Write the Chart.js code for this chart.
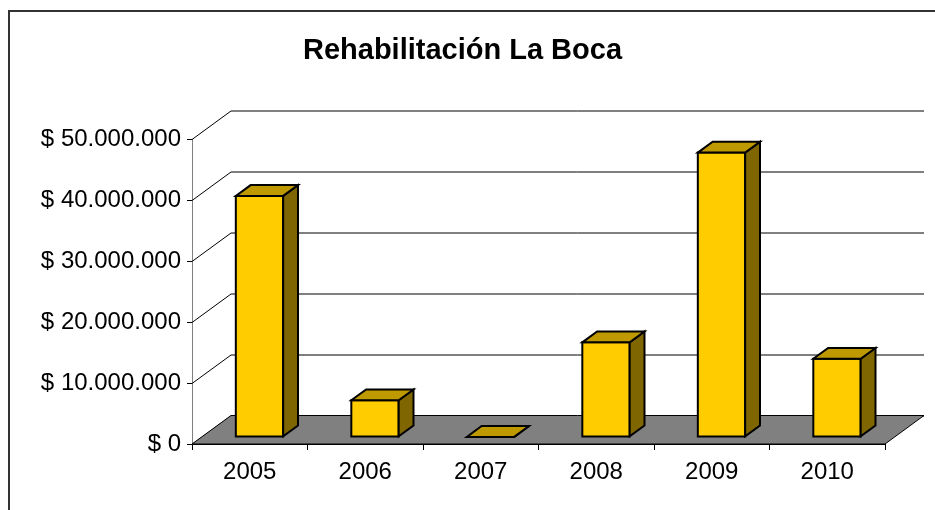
<!DOCTYPE html>
<html>
<head>
<meta charset="utf-8">
<title>Rehabilitación La Boca</title>
<script src="https://cdn.jsdelivr.net/npm/chart.js@4.4.1/dist/chart.umd.min.js"></script>
<style>
    html, body { margin: 0; padding: 0; background: #fff; }
    #wrap { position: relative; width: 935px; height: 510px; }
    #frame { position: absolute; left: 8px; top: 10px; right: 0; bottom: 0; border-left: 2px solid #333; border-top: 2px solid #333; }
    #chart { position: absolute; left: 0; top: 0; }
</style>
</head>
<body>
<div id="wrap">
    <div id="frame"></div>
    <canvas id="chart" width="935" height="510"></canvas>
</div>
<script>
const chartTitle = 'Rehabilitación La Boca';
const years = ['2005', '2006', '2007', '2008', '2009', '2010'];
const amounts = [39500000, 6000000, 0, 15500000, 46600000, 12800000];
const yTicks = [0, 10000000, 20000000, 30000000, 40000000, 50000000];

// fake 3d depth of the floor, and where the bars sit inside it
const DEPTH_X = 39, DEPTH_Y = -28.5;
const BAR_FRONT = 0.25, BAR_BACK = 0.63;
const FONT = "'Liberation Sans', Arial, sans-serif";

function pesos(v) {
    return '$ ' + String(Math.round(v)).replace(/\B(?=(\d{3})+(?!\d))/g, '.');
}

function poly(ctx, pts, fill, stroke, lw) {
    ctx.beginPath();
    ctx.moveTo(pts[0][0], pts[0][1]);
    for (let i = 1; i < pts.length; i++) ctx.lineTo(pts[i][0], pts[i][1]);
    ctx.closePath();
    if (fill) { ctx.fillStyle = fill; ctx.fill(); }
    if (stroke) { ctx.strokeStyle = stroke; ctx.lineWidth = lw; ctx.stroke(); }
}

const box3d = {
    id: 'box3d',
    beforeDatasetsDraw(chart) {
        const ctx = chart.ctx;
        const a = chart.chartArea;
        const ys = chart.scales.y;
        ctx.save();
        // back wall grid + side wall diagonals
        ctx.strokeStyle = '#000';
        ctx.lineWidth = 1;
        yTicks.forEach(v => {
            const py = Math.round(ys.getPixelForValue(v)) + 0.5;
            ctx.beginPath();
            ctx.moveTo(a.left, py);
            ctx.lineTo(a.left + DEPTH_X, py + DEPTH_Y);
            ctx.lineTo(a.right + DEPTH_X, py + DEPTH_Y);
            ctx.stroke();
        });
        // floor
        const y0 = ys.getPixelForValue(0);
        poly(ctx, [
            [a.left, y0], [a.right, y0],
            [a.right + DEPTH_X, y0 + DEPTH_Y], [a.left + DEPTH_X, y0 + DEPTH_Y]
        ], '#808080', '#000', 1);
        ctx.restore();
    },
    afterDatasetsDraw(chart) {
        const ctx = chart.ctx;
        const fx = DEPTH_X * BAR_FRONT, fy = DEPTH_Y * BAR_FRONT;
        const dx = DEPTH_X * (BAR_BACK - BAR_FRONT), dy = DEPTH_Y * (BAR_BACK - BAR_FRONT);
        ctx.save();
        ctx.lineJoin = 'miter';
        chart.getDatasetMeta(0).data.forEach(bar => {
            const p = bar.getProps(['x', 'y', 'base', 'width'], true);
            const l = p.x - p.width / 2 + fx, r = p.x + p.width / 2 + fx;
            const t = p.y + fy, b = p.base + fy;
            poly(ctx, [[l, t], [r, t], [r, b], [l, b]], '#FFCC00', '#000', 2);
            poly(ctx, [[r, t], [r + dx, t + dy], [r + dx, b + dy], [r, b]], '#806600', '#000', 2);
            poly(ctx, [[l, t], [r, t], [r + dx, t + dy], [l + dx, t + dy]], '#BF9900', '#000', 2);
        });
        ctx.restore();
    }
};

new Chart(document.getElementById('chart'), {
    type: 'bar',
    data: {
        labels: years,
        datasets: [{
            data: amounts,
            backgroundColor: 'rgba(0,0,0,0)',
            borderWidth: 0,
            categoryPercentage: 1,
            barPercentage: 0.41
        }]
    },
    options: {
        responsive: false,
        animation: false,
        devicePixelRatio: 1,
        layout: { padding: { left: 40, right: 50, top: 0, bottom: 0 } },
        plugins: {
            legend: { display: false },
            tooltip: { enabled: false },
            title: {
                display: true,
                text: chartTitle,
                color: '#000',
                font: { family: FONT, size: 29, weight: 'bold' },
                padding: { top: 34, bottom: 70.2 }
            }
        },
        scales: {
            x: {
                afterFit: s => { s.height = 66; },
                grid: { display: true, drawOnChartArea: false, drawTicks: true, tickLength: 6, color: '#000' },
                border: { display: true, color: '#000' },
                ticks: { color: '#000', padding: 8, font: { family: FONT, size: 24 } }
            },
            y: {
                min: 0,
                max: yTicks[yTicks.length - 1],
                afterFit: s => { s.width = 152; },
                grid: { display: true, drawOnChartArea: false, drawTicks: true, tickLength: 5, color: '#000' },
                border: { display: true, color: '#808080' },
                ticks: {
                    stepSize: yTicks[1],
                    color: '#000',
                    padding: 6,
                    font: { family: FONT, size: 24 },
                    callback: v => pesos(v)
                }
            }
        }
    },
    plugins: [box3d]
});
</script>
</body>
</html>
